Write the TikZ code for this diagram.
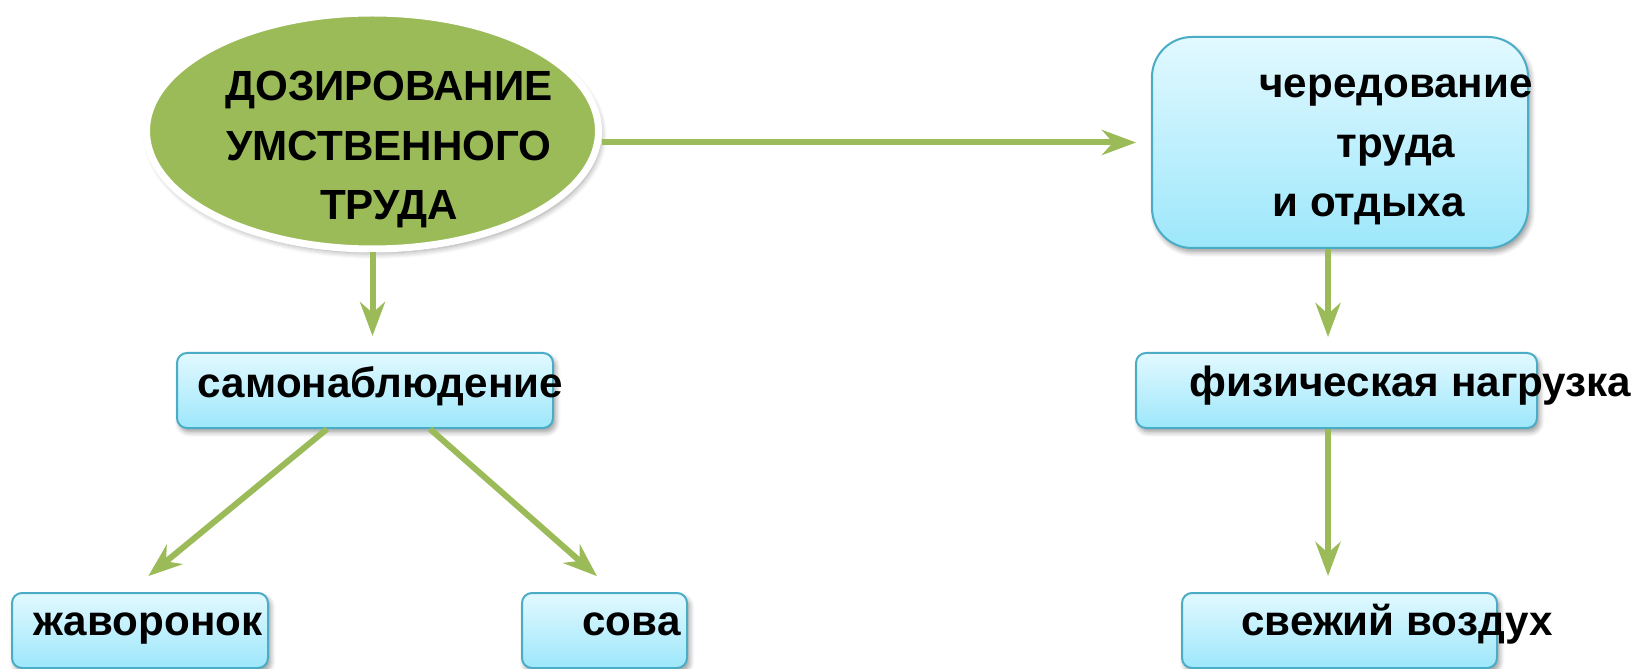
\documentclass[tikz,border=0pt]{standalone}
\usepackage{fontspec}
\setmainfont{Liberation Sans}
\usepackage{tikz}
\usetikzlibrary{shapes,arrows.meta,shadows.blur}
\definecolor{leaf}{HTML}{9BBB59}
\definecolor{sky}{HTML}{4BACC6}
\definecolor{skytop}{HTML}{E2F9FF}
\definecolor{skybot}{HTML}{9DE7FB}
\tikzstyle{oval}=[ellipse, fill=leaf, draw=white, line width=0.14cm, inner sep=0pt,
        minimum width=9.04cm, minimum height=4.72cm,
        blur shadow={shadow blur steps=6, shadow xshift=0.05cm, shadow yshift=-0.08cm, shadow blur radius=0.12cm}]
\tikzstyle{box}=[rectangle, draw=sky, line width=0.04cm, rounded corners=0.2cm, top color=skytop, bottom color=skybot,
        inner sep=0pt, minimum height=1.5cm,
        blur shadow={shadow blur steps=6, shadow xshift=0.05cm, shadow yshift=-0.08cm, shadow blur radius=0.1cm}]
\tikzstyle{lbl}=[inner sep=0pt, anchor=base, align=center, font=\fontsize{24}{34.1}\selectfont\bfseries]
\tikzstyle{arr}=[draw=leaf, line width=0.12cm, -{Stealth[length=0.68cm,width=0.5cm,inset=0.22cm]}, shorten >=0.32cm]

\begin{document}
\begin{tikzpicture}
\useasboundingbox (0,0) rectangle (33,13.36);
\node [oval] (dose) at (7.45,10.74) {};
\node [box, rounded corners=0.8cm, minimum width=7.52cm, minimum height=4.22cm] (rest) at (26.80,10.51) {};
\node [box, minimum width=7.52cm] (self) at (7.30,5.55) {};
\node [box, minimum width=8.02cm] (load) at (26.73,5.55) {};
\node [box, minimum width=5.12cm] (lark) at (2.80,0.75) {};
\node [box, minimum width=3.3cm] (owl) at (12.09,0.75) {};
\node [box, minimum width=6.3cm] (air) at (26.79,0.75) {};

\node [lbl] (dosetxt) at (7.78,8.96) {ДОЗИРОВАНИЕ\\УМСТВЕННОГО\\ТРУДА};
\node [lbl] (resttxt) at (27.92,9.02) {чередование\\труда\\и отдыха\hspace*{1.1cm}};
\node [lbl] (selftxt) at (7.61,5.40) {самонаблюдение};
\node [lbl] (loadtxt) at (28.21,5.42) {физическая нагрузка};
\node [lbl] (larktxt) at (2.96,0.66) {жаворонок};
\node [lbl] (owltxt) at (12.63,0.66) {сова};
\node [lbl] (airtxt) at (27.94,0.66) {свежий воздух};

\draw [arr] (dose.south) -- (dose.south |- self.north);
\draw [arr, shorten >=0.3cm] (dose.east |- rest.west) -- (rest.west);
\draw [arr, shorten >=0.3cm] ([xshift=-0.24cm]rest.south) -- ([xshift=-0.24cm]rest.south |- load.north);
\draw [arr] ([xshift=-0.17cm]load.south) -- ([xshift=-0.17cm]load.south |- air.north);
\draw [arr, shorten >=0.5cm] ([xshift=-0.76cm]self.south) -- ([xshift=-0.22cm]lark.north);
\draw [arr, shorten >=0.48cm] ([xshift=1.3cm]self.south) -- ([xshift=0.21cm]owl.north);
\end{tikzpicture}
\end{document}
